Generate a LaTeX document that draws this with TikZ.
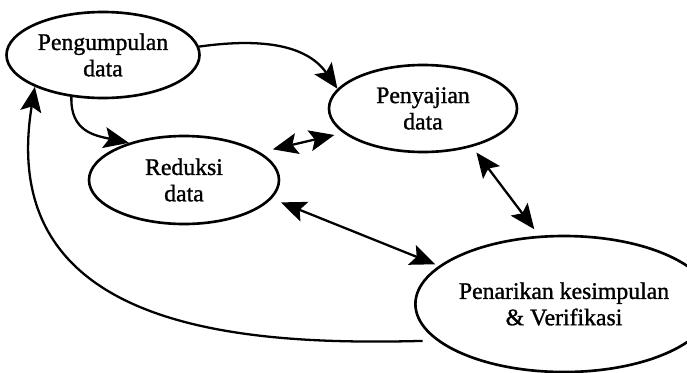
\documentclass[tikz,border=0pt]{standalone}
\usepackage{fontspec}
\setmainfont{Liberation Serif}
\newfontfamily\labelfont[FakeBold=1.2]{Liberation Serif}
\usetikzlibrary{arrows.meta, shapes.geometric}

\begin{document}
\begin{tikzpicture}[
                    % GLOBAL CFG
                    font=\labelfont\fontsize{13.5}{15}\selectfont,
                    >={Stealth[length=5mm, width=4.2mm, inset=1mm]},
                    % Styles
                    stage/.style={% For the ellipses
                            ellipse,
                            draw,
                            line width=1.5pt,
                            inner sep=0pt,
                            align=center,
                        },
                    flow/.style={% Plain connecting arrows
                            ->,
                            line width=1.3pt,
                        },
                    link/.style={% Arrows pointing both ways
                            <->,
                            line width=1.3pt,
                        },
                ]

                % Fix the size of the page
                \useasboundingbox (0,0) rectangle (13.74,-7.44);

                % Draw the stages
                \node [stage, minimum width=3.86cm, minimum height=1.72cm] (peng) at (2.06,-1.10) {Pengumpulan\\data};
                \node [stage, minimum width=3.76cm, minimum height=1.74cm] (peny) at (8.46,-2.17) {Penyajian\\data};
                \node [stage, minimum width=3.80cm, minimum height=1.76cm] (red) at (3.68,-3.60) {Reduksi\\data};
                \node [stage, minimum width=4.84cm, minimum height=2.72cm] (pen) at (11.28,-6.08) {Penarikan kesimpulan\\\& Verifikasi};

                % Arrows out of the first stage
                \draw [flow] (peng.5) to[out=8, in=125] (peny.167);
                \draw [flow] (peng.233) to[out=-92, in=168, looseness=1.2] (red.146);

                % Arrows both ways
                \draw [link, shorten <=0.26cm, shorten >=0.18cm] (red.20) -- (peny.197);
                \draw [link, shorten <=0.2cm, shorten >=0.08cm] (red.-12) -- (pen.163);
                \draw [link, shorten <=0.14cm, shorten >=0.16cm] (peny.-38) -- (pen.110);

                % Back to the start
                \draw [flow, shorten <=0.28cm] (pen.196) .. controls +(-3.82,-0.1) and +(-0.8,-4.9) .. (peng.205);

            \end{tikzpicture}
\end{document}
